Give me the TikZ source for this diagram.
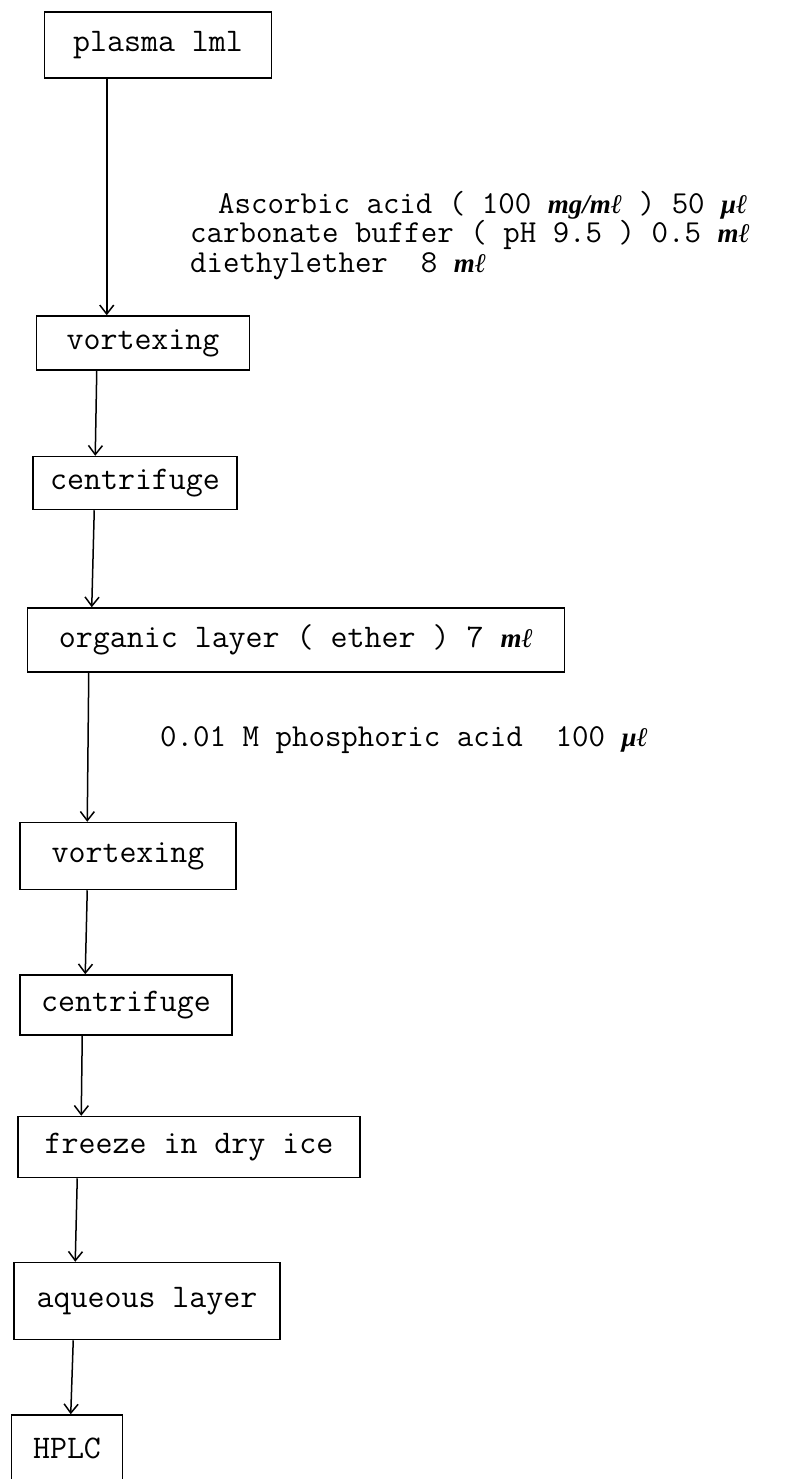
\documentclass[tikz,border=0pt]{standalone}
\usepackage{fontspec}
\newfontfamily\unitfont{Liberation Serif}
\newcommand{\ml}{{\unitfont\itshape\bfseries\fontsize{27}{27}\selectfont mℓ}}
\newcommand{\ul}{{\unitfont\itshape\bfseries\fontsize{27}{27}\selectfont μℓ}}
\newcommand{\mgml}{{\unitfont\itshape\bfseries\fontsize{27}{27}\selectfont mg/mℓ}}
\usetikzlibrary{arrows.meta,positioning,calc}

\begin{document}
\begin{tikzpicture}[x=1pt, y=-1pt, >={Straight Barb[length=9pt,width=14pt]},
  every node/.style={font=\ttfamily\fontsize{33}{27}\selectfont},
  stepbox/.style={draw,line width=1.5pt,inner sep=0pt,align=center},
  note/.style={anchor=base west,inner sep=0pt,font=\ttfamily\fontsize{32}{27}\selectfont},
  flow/.style={->,line width=1.5pt}]
  \useasboundingbox (0,0) rectangle (795,1479);
  \clip (0,0) rectangle (795,1479);
  % Extraction steps (top to bottom)
  \node[stepbox,minimum width=227pt,minimum height=66pt] (plasma) at (158,45) {plasma lml};
  \node[stepbox,minimum width=213pt,minimum height=54pt] (vort1) at (143,343) {vortexing};
  \node[stepbox,minimum width=204pt,minimum height=53pt] (cent1) at (135,483) {centrifuge};
  \node[stepbox,minimum width=537pt,minimum height=64pt] (organic) at (296,640) {organic layer ( ether ) 7 \ml};
  \node[stepbox,minimum width=216pt,minimum height=67pt] (vort2) at (128,856) {vortexing};
  \node[stepbox,minimum width=212pt,minimum height=60pt] (cent2) at (126,1005) {centrifuge};
  \node[stepbox,minimum width=342pt,minimum height=61pt] (freeze) at (189,1147) {freeze in dry ice};
  \node[stepbox,minimum width=266pt,minimum height=77pt] (aqueous) at (147,1301) {aqueous layer};
  \node[stepbox,minimum width=111pt,minimum height=76pt,text depth=10pt] (hplc) at (67,1453) {HPLC};
  % Reagents added
  \node[note] (ascorbic) at (218,214) {Ascorbic acid ( 100 \mgml{} ) 50 \ul};
  \node[note] (buffer) at (190,243) {carbonate buffer ( pH 9.5 ) 0.5 \ml};
  \node[note] (ether) at (190,272) {diethylether\ \ 8 \ml};
  \node[note] (acid) at (160,746) {0.01 M phosphoric acid\ \ 100 \ul};
  % Links
  \draw[flow] ([xshift=63pt]plasma.south west) -- ([xshift=71pt]vort1.north west);
  \draw[flow] ([xshift=61pt]vort1.south west) -- ([xshift=63pt]cent1.north west);
  \draw[flow] ([xshift=62pt]cent1.south west) -- ([xshift=65pt]organic.north west);
  \draw[flow] ([xshift=62pt]organic.south west) -- ([xshift=68pt]vort2.north west);
  \draw[flow] ([xshift=68pt]vort2.south west) -- ([xshift=66pt]cent2.north west);
  \draw[flow] ([xshift=63pt]cent2.south west) -- ([xshift=64pt]freeze.north west);
  \draw[flow] ([xshift=60pt]freeze.south west) -- ([xshift=62pt]aqueous.north west);
  \draw[flow] ([xshift=60pt]aqueous.south west) -- ([xshift=60pt]hplc.north west);
\end{tikzpicture}
\end{document}
